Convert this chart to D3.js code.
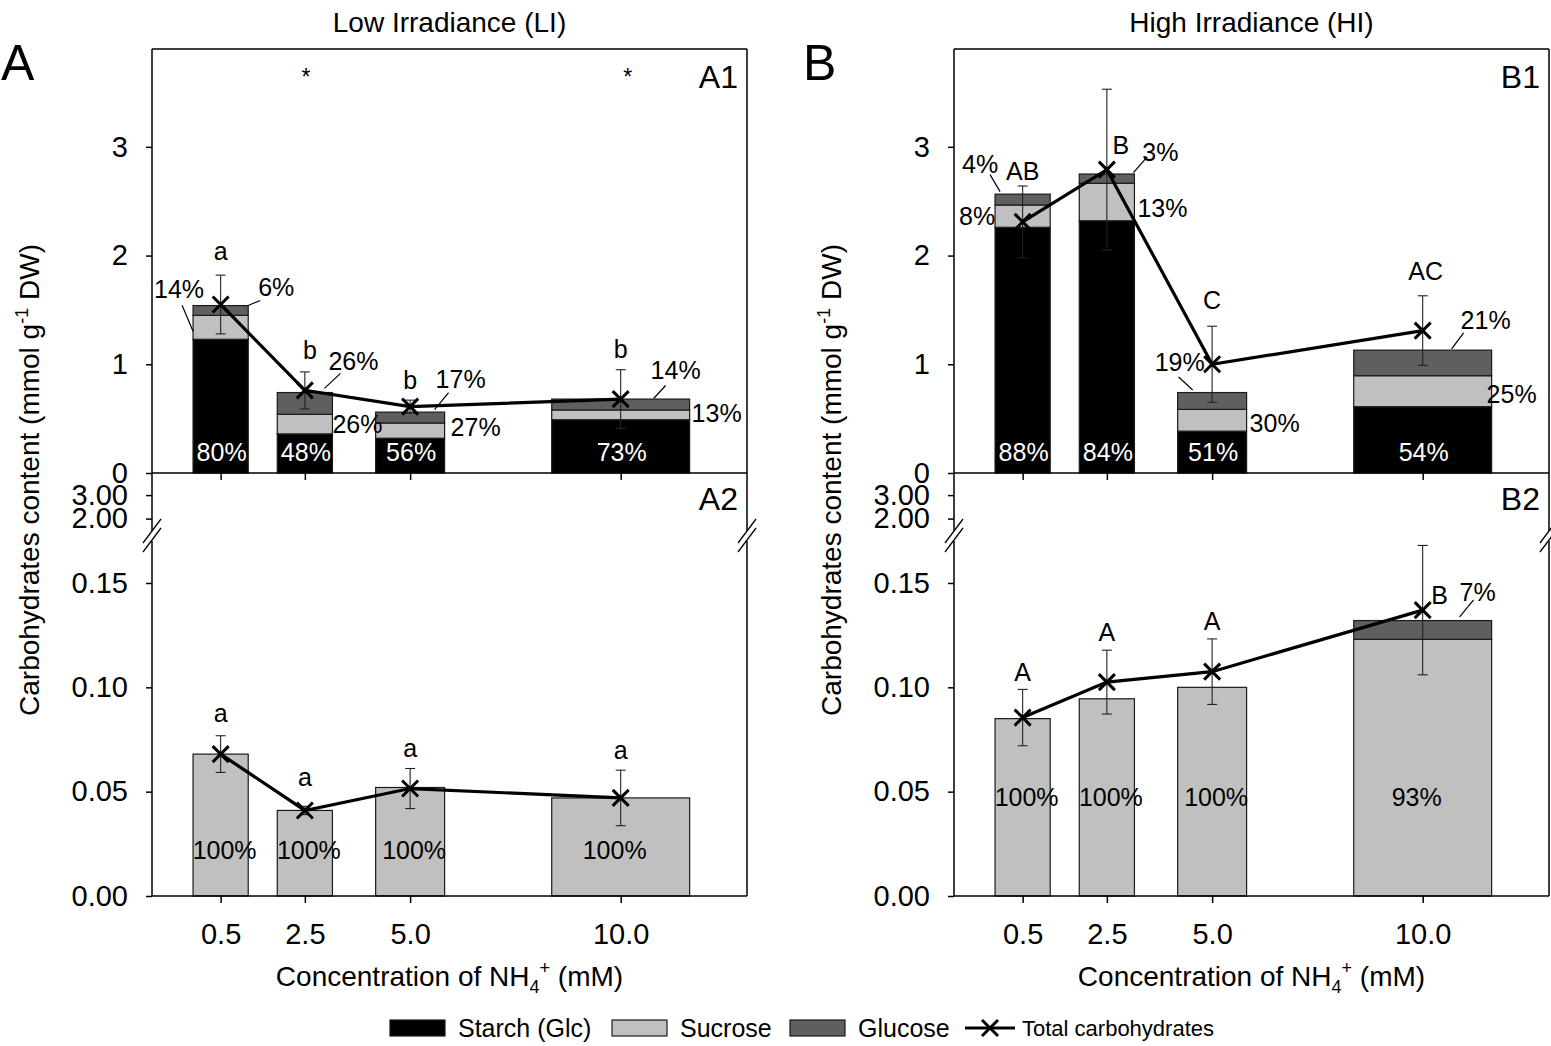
<!DOCTYPE html>
<html>
<head>
<meta charset="utf-8">
<script src="https://cdn.jsdelivr.net/npm/d3@7"></script>
<style>
  body { margin: 0; background: #fff; }
  svg text { font-family: "Liberation Sans", Arial, sans-serif; fill: #000; }
</style>
</head>
<body>
<svg id="chart" width="1551" height="1046"></svg>
<script>
// ---- data ----
const conc = [0.5, 2.5, 5.0, 10.0];
const concLabels = ["0.5", "2.5", "5.0", "10.0"];

// Low irradiance, upper part (A1)
const liStarch = [1.23, 0.36, 0.32, 0.49];
const liSucrose = [0.22, 0.18, 0.14, 0.09];
const liGlucose = [0.09, 0.20, 0.10, 0.10];
const liTotal = [1.55, 0.76, 0.61, 0.68];
const liErr = [0.27, 0.17, 0.06, 0.27];
const liLetters = ["a", "b", "b", "b"];
const liStarchPct = ["80%", "48%", "56%", "73%"];
const liSucrosePct = ["14%", "26%", "27%", "13%"];
const liGlucosePct = ["6%", "26%", "17%", "14%"];
const liSig = ["", "*", "", "*"];

// Low irradiance, lower part (A2)
const li2Sucrose = [0.068, 0.041, 0.052, 0.047];
const li2Glucose = [0, 0, 0, 0];
const li2Total = [0.068, 0.041, 0.0515, 0.047];
const li2Err = [0.0088, 0.002, 0.0096, 0.0133];
const li2Letters = ["a", "a", "a", "a"];
const li2SucrosePct = ["100%", "100%", "100%", "100%"];
const li2GlucosePct = ["", "", "", ""];

// High irradiance, upper part (B1)
const hiStarch = [2.26, 2.32, 0.385, 0.61];
const hiSucrose = [0.205, 0.345, 0.20, 0.285];
const hiGlucose = [0.10, 0.085, 0.155, 0.235];
const hiTotal = [2.31, 2.79, 1.00, 1.31];
const hiErr = [0.33, 0.74, 0.35, 0.32];
const hiLetters = ["AB", "B", "C", "AC"];
const hiStarchPct = ["88%", "84%", "51%", "54%"];
const hiSucrosePct = ["8%", "13%", "30%", "25%"];
const hiGlucosePct = ["4%", "3%", "19%", "21%"];

// High irradiance, lower part (B2)
const hi2Sucrose = [0.085, 0.0945, 0.100, 0.123];
const hi2Glucose = [0, 0, 0, 0.009];
const hi2Total = [0.0855, 0.1025, 0.1075, 0.137];
const hi2Err = [0.0135, 0.0153, 0.0157, 0.031];
const hi2Letters = ["A", "A", "A", "B"];
const hi2SucrosePct = ["100%", "100%", "100%", "93%"];
const hi2GlucosePct = ["", "", "", "7%"];

// ---- layout ----
const W = 595;
const yTopPx = 49, yMidPx = 473, yBotPx = 896;
const xDomain = [-1.13, 13.0];
const fill = { starch: "#000000", sucrose: "#c0c0c0", glucose: "#5f5f5f" };
const font = 25;

const svg = d3.select("#chart");

// bar width: fraction of the closest spacing between concentrations
const barW = conc.map((c, i) => {
  const gaps = [];
  if (i > 0) gaps.push(c - conc[i - 1]);
  if (i < conc.length - 1) gaps.push(conc[i + 1] - c);
  return 0.655 * d3.min(gaps);
});

// where the percentage labels sit (offsets from the segment's side edge)
const notesA1 = [
  { i: 0, key: "sucrose", side: -1, lead: [0, 4, -11, -22], txt: [-14, -38] },
  { i: 0, key: "glucose", side: 1, lead: [0, -5, 12, -10], txt: [28, -23] },
  { i: 1, key: "glucose", side: 1, lead: [-8, -15, 8, -30], txt: [21, -42] },
  { i: 1, key: "sucrose", side: 1, txt: [25, 0] },
  { i: 2, key: "glucose", side: 1, lead: [-10, -8, 4, -25], txt: [16, -38] },
  { i: 2, key: "sucrose", side: 1, txt: [31, -3] },
  { i: 3, key: "glucose", side: 1, lead: [-36, -6, -24, -19], txt: [-14, -34] },
  { i: 3, key: "sucrose", side: 1, txt: [27, -2] }
];
const notesB1 = [
  { i: 0, key: "glucose", side: -1, lead: [5, -8, -5, -25], txt: [-15, -35] },
  { i: 0, key: "sucrose", side: -1, txt: [-18, 0] },
  { i: 1, key: "glucose", side: 1, lead: [-1, -6, 13, -22], txt: [26, -26] },
  { i: 1, key: "sucrose", side: 1, txt: [28, 6] },
  { i: 2, key: "glucose", side: -1, lead: [15, -11, 1, -24], txt: [2, -39] },
  { i: 2, key: "sucrose", side: 1, txt: [28, 3] },
  { i: 3, key: "glucose", side: 1, lead: [-40, -14, -28, -30], txt: [-6, -43] },
  { i: 3, key: "sucrose", side: 1, txt: [20, 3] }
];
const notesB2 = [
  { i: 3, key: "glucose", side: 1, lead: [-32, -13, -18, -30], txt: [-14, -38] }
];

const panels = [
  {
    left: 152, title: "Low Irradiance (LI)", letter: "A", tags: ["A1", "A2"],
    upper: { cols: [liStarch, liSucrose, liGlucose], pct: { starch: liStarchPct, sucrose: liSucrosePct, glucose: liGlucosePct },
      total: liTotal, err: liErr, letters: liLetters, notes: notesA1,
      letterOff: [[0, -24], [5, -22], [0, -20], [0, -20]] },
    lower: { cols: [li2Sucrose, li2Glucose], pct: { sucrose: li2SucrosePct, glucose: li2GlucosePct },
      total: li2Total, err: li2Err, letters: li2Letters, notes: [], inY: 46, inDx: 4,
      letterOff: [[0, -22], [0, -29], [0, -20], [0, -20]] },
    sig: liSig
  },
  {
    left: 954, title: "High Irradiance (HI)", letter: "B", tags: ["B1", "B2"],
    upper: { cols: [hiStarch, hiSucrose, hiGlucose], pct: { starch: hiStarchPct, sucrose: hiSucrosePct, glucose: hiGlucosePct },
      total: hiTotal, err: hiErr, letters: hiLetters, notes: notesB1,
      letterOff: [[0, -15], [14, 56], [0, -26], [3, -25]] },
    lower: { cols: [hi2Sucrose, hi2Glucose], pct: { sucrose: hi2SucrosePct, glucose: hi2GlucosePct },
      total: hi2Total, err: hi2Err, letters: hi2Letters, notes: notesB2, inY: 99, inDx: 4,
      letterOff: [[0, -17], [0, -18], [0, -18], [17, 50]] },
    sig: ["", "", "", ""]
  }
];

function drawStack(g, x, y, keys, cols) {
  const rows = conc.map((c, i) => {
    const r = { c: c, i: i };
    keys.forEach((k, j) => (r[k] = cols[j][i]));
    return r;
  });
  const stacked = d3.stack().keys(keys)(rows);
  stacked.forEach((layer) => {
    g.append("g")
      .selectAll("rect")
      .data(layer.filter((d) => d[1] > d[0]))
      .join("rect")
      .attr("x", (d) => x(d.data.c - barW[d.data.i] / 2))
      .attr("width", (d) => x(d.data.c + barW[d.data.i] / 2) - x(d.data.c - barW[d.data.i] / 2))
      .attr("y", (d) => y(d[1]))
      .attr("height", (d) => y(d[0]) - y(d[1]))
      .attr("fill", fill[layer.key])
      .attr("stroke", "#1a1a1a")
      .attr("stroke-width", 1.2);
  });
  return stacked;
}

function drawNotes(g, x, y, stacked, part) {
  part.notes.forEach((n) => {
    const layer = stacked.find((l) => l.key === n.key);
    const d = layer[n.i];
    const ex = n.side < 0 ? x(conc[n.i] - barW[n.i] / 2) : x(conc[n.i] + barW[n.i] / 2);
    const ey = y((d[0] + d[1]) / 2);
    if (n.lead) {
      g.append("line")
        .attr("x1", ex + n.lead[0]).attr("y1", ey + n.lead[1])
        .attr("x2", ex + n.lead[2]).attr("y2", ey + n.lead[3])
        .attr("stroke", "#000").attr("stroke-width", 1.2);
    }
    g.append("text")
      .attr("x", ex + n.txt[0]).attr("y", ey + n.txt[1])
      .attr("dy", "0.35em").attr("text-anchor", "middle")
      .attr("font-size", font)
      .text(part.pct[n.key][n.i]);
  });
}

function drawTotals(g, x, y, part) {
  const pts = conc.map((c, i) => ({ c: c, t: part.total[i], e: part.err[i], i: i }));
  // error bars
  const eb = g.append("g").attr("stroke", "#222").attr("stroke-width", 1.1);
  pts.forEach((p) => {
    const cx = x(p.c);
    eb.append("line").attr("x1", cx).attr("x2", cx).attr("y1", y(p.t - p.e)).attr("y2", y(p.t + p.e));
    [p.t - p.e, p.t + p.e].forEach((v) => {
      eb.append("line").attr("x1", cx - 5).attr("x2", cx + 5).attr("y1", y(v)).attr("y2", y(v));
    });
  });
  // line
  g.append("path")
    .datum(pts)
    .attr("fill", "none")
    .attr("stroke", "#000")
    .attr("stroke-width", 3.2)
    .attr("d", d3.line().x((d) => x(d.c)).y((d) => y(d.t)));
  // X markers
  g.append("g")
    .selectAll("path")
    .data(pts)
    .join("path")
    .attr("transform", (d) => `translate(${x(d.c)},${y(d.t)})`)
    .attr("d", "M-8,-8L8,8M-8,8L8,-8")
    .attr("stroke", "#000")
    .attr("stroke-width", 3);
  // significance letters
  g.append("g")
    .selectAll("text")
    .data(pts)
    .join("text")
    .attr("x", (d) => x(d.c) + part.letterOff[d.i][0])
    .attr("y", (d) => y(d.t + d.e) + part.letterOff[d.i][1])
    .attr("dy", "0.35em")
    .attr("text-anchor", "middle")
    .attr("font-size", font)
    .text((d) => part.letters[d.i]);
}

function axisBreak(g, ax) {
  g.append("rect").attr("x", ax - 3).attr("y", 531).attr("width", 6).attr("height", 10).attr("fill", "#fff");
  [531, 540].forEach((yy) => {
    g.append("line")
      .attr("x1", ax - 9).attr("y1", yy + 12)
      .attr("x2", ax + 9).attr("y2", yy - 12)
      .attr("stroke", "#000").attr("stroke-width", 1.3);
  });
}

function drawPanel(p) {
  const g = svg.append("g");
  const L = p.left, R = p.left + W;
  const x = d3.scaleLinear().domain(xDomain).range([L, R]);
  const yA = d3.scaleLinear().domain([0, 3.9]).range([yMidPx, yTopPx]);
  const yHi = d3.scaleLinear().domain([1.43, 3.94]).range([532, yMidPx]);
  const yLo = d3.scaleLinear().domain([0, 0.1706]).range([yBotPx, 540]);

  // upper part: stacked bars
  const stU = drawStack(g, x, yA, ["starch", "sucrose", "glucose"], p.upper.cols);
  // starch share, white inside the black bar
  g.append("g")
    .selectAll("text")
    .data(conc)
    .join("text")
    .attr("x", (c) => x(c) + 1)
    .attr("y", yMidPx - 21)
    .attr("dy", "0.35em")
    .attr("text-anchor", "middle")
    .attr("font-size", font)
    .style("fill", "#fff")
    .text((c, i) => p.upper.pct.starch[i]);
  drawTotals(g, x, yA, p.upper);
  drawNotes(g, x, yA, stU, p.upper);

  // lower part
  const stL = drawStack(g, x, yLo, ["sucrose", "glucose"], p.lower.cols);
  g.append("g")
    .selectAll("text")
    .data(conc)
    .join("text")
    .attr("x", (c) => x(c) + (c === 10 ? -6 : p.lower.inDx))
    .attr("y", yBotPx - p.lower.inY)
    .attr("dy", "0.35em")
    .attr("text-anchor", "middle")
    .attr("font-size", font)
    .text((c, i) => p.lower.pct.sucrose[i]);
  drawTotals(g, x, yLo, p.lower);
  drawNotes(g, x, yLo, stL, p.lower);

  // asterisks
  g.append("g")
    .selectAll("text")
    .data(conc)
    .join("text")
    .attr("x", (c) => x(c) + (c === 10 ? 7 : 1))
    .attr("y", 85)
    .attr("text-anchor", "middle")
    .attr("font-size", 23)
    .text((c, i) => p.sig[i]);

  // axes
  const styleAxis = (sel) => {
    sel.attr("font-size", 29).attr("font-family", null);
    sel.select(".domain").remove();
    sel.selectAll(".tick line").attr("stroke-width", 1.5);
  };
  g.append("g").attr("transform", `translate(${L},0)`)
    .call(d3.axisLeft(yA).tickValues([0, 1, 2, 3]).tickFormat(d3.format("d")).tickSize(6).tickPadding(18))
    .call(styleAxis);
  g.append("g").attr("transform", `translate(${L},0)`)
    .call(d3.axisLeft(yHi).tickValues([2, 3]).tickFormat(d3.format(".2f")).tickSize(6).tickPadding(18))
    .call(styleAxis);
  g.append("g").attr("transform", `translate(${L},0)`)
    .call(d3.axisLeft(yLo).tickValues([0, 0.05, 0.1, 0.15]).tickFormat(d3.format(".2f")).tickSize(6).tickPadding(18))
    .call(styleAxis);
  g.append("g").attr("transform", `translate(0,${yMidPx})`)
    .call(d3.axisBottom(x).tickValues(conc).tickFormat("").tickSize(7))
    .call(styleAxis);
  g.append("g").attr("transform", `translate(0,${yBotPx})`)
    .call(d3.axisBottom(x).tickValues(conc).tickFormat((d, i) => concLabels[i]).tickSize(7).tickPadding(20))
    .call(styleAxis);

  // frame
  const fr = g.append("g").attr("stroke", "#000").attr("stroke-width", 1.5);
  [[L, yTopPx, R, yTopPx], [L, yMidPx, R, yMidPx], [L, yBotPx, R, yBotPx],
   [L, yTopPx, L, yBotPx], [R, yTopPx, R, yBotPx]].forEach((s) => {
    fr.append("line").attr("x1", s[0]).attr("y1", s[1]).attr("x2", s[2]).attr("y2", s[3]);
  });
  axisBreak(g, L);
  axisBreak(g, R);

  // panel tags
  g.append("text").attr("x", R - 9).attr("y", 88).attr("text-anchor", "end").attr("font-size", 32).text(p.tags[0]);
  g.append("text").attr("x", R - 9).attr("y", 510).attr("text-anchor", "end").attr("font-size", 32).text(p.tags[1]);
  g.append("text").attr("x", L - 151).attr("y", 80).attr("font-size", 50).text(p.letter);

  // titles
  g.append("text").attr("x", (L + R) / 2).attr("y", 32).attr("text-anchor", "middle").attr("font-size", 28).text(p.title);

  const yl = g.append("text")
    .attr("transform", `translate(${L - 113},480) rotate(-90)`)
    .attr("text-anchor", "middle")
    .attr("font-size", 28);
  yl.append("tspan").text("Carbohydrates content (mmol g");
  yl.append("tspan").attr("font-size", 18).attr("dy", -11).text("-1");
  yl.append("tspan").attr("dy", 11).text(" DW)");

  const xl = g.append("text")
    .attr("x", (L + R) / 2)
    .attr("y", 986)
    .attr("text-anchor", "middle")
    .attr("font-size", 28);
  xl.append("tspan").text("Concentration of NH");
  xl.append("tspan").attr("font-size", 18).attr("dy", 7).text("4");
  xl.append("tspan").attr("font-size", 18).attr("dy", -19).text("+");
  xl.append("tspan").attr("dy", 12).text(" (mM)");
}

panels.forEach(drawPanel);

// ---- legend ----
const legend = svg.append("g");
const legItems = [
  { key: "starch", label: "Starch (Glc)", x: 390 },
  { key: "sucrose", label: "Sucrose", x: 612 },
  { key: "glucose", label: "Glucose", x: 790 }
];
legItems.forEach((d) => {
  legend.append("rect").attr("x", d.x).attr("y", 1020).attr("width", 55).attr("height", 16)
    .attr("fill", fill[d.key]).attr("stroke", "#1a1a1a").attr("stroke-width", 1.2);
  legend.append("text").attr("x", d.x + 68).attr("y", 1037).attr("font-size", 25).text(d.label);
});
legend.append("line").attr("x1", 965).attr("x2", 1015).attr("y1", 1028).attr("y2", 1028)
  .attr("stroke", "#000").attr("stroke-width", 3.2);
legend.append("path").attr("transform", "translate(990,1028)").attr("d", "M-8,-8L8,8M-8,8L8,-8")
  .attr("stroke", "#000").attr("stroke-width", 3);
legend.append("text").attr("x", 1022).attr("y", 1036).attr("font-size", 22).text("Total carbohydrates");
</script>
</body>
</html>
